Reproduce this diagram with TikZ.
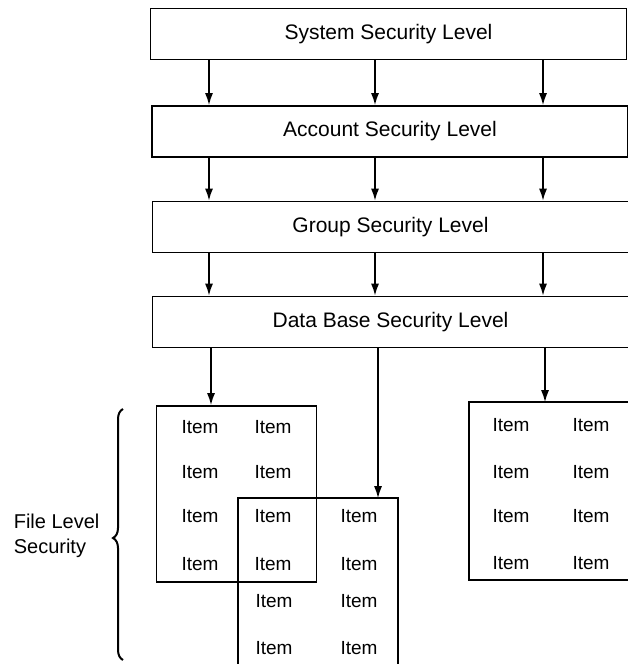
\documentclass[tikz,border=0pt]{standalone}
\usepackage{fontspec}
\setmainfont{Liberation Sans}
\usetikzlibrary{arrows.meta}
\usetikzlibrary{decorations.pathreplacing}

\begin{document}
\begin{tikzpicture}[
    x = 1pt, y = -1pt,
    line width = 1.6pt,
    >={Latex[length=12pt,width=8pt]}]
    \tikzstyle{level}=[draw,minimum width=476pt,minimum height=51pt,inner sep=0pt,font=\fontsize{21}{25}\selectfont]
    \tikzstyle{file}=[minimum width=160pt,minimum height=176pt,inner sep=0pt]
    \tikzstyle{item}=[inner sep=0pt,font=\fontsize{19}{23}\selectfont]
    \useasboundingbox (0,0) rectangle (628,664);
    \node[level] (sys) at (388.5,34) {System Security Level};
    \node[level] (acc) at (390,131.5) {Account Security Level};
    \node[level] (grp) at (390.5,227) {Group Security Level};
    \node[level] (db) at (390.5,322) {Data Base Security Level};
    \coordinate (c1) at (209,0);
    \coordinate (c2) at (375,0);
    \coordinate (c3) at (543,0);
    \foreach \u/\l in {sys/acc,acc/grp,grp/db}
      \foreach \c in {c1,c2,c3}
        \draw[->] (\u.south -| \c) -- (\l.north -| \c);
    \node[file,draw] (fa) at (236.5,494) {};
    \node[file,minimum width=158pt,minimum height=170pt] (fb) at (318,584) {};
    \node[file,minimum width=158pt] (fc) at (549,491) {};
    \draw (fb.south west) -- (fb.north west) -- (fb.north east) -- (fb.south east);
    \draw (fc.north east) -- (fc.north west) -- (fc.south west) -- (fc.south east);
    \coordinate (d1) at (211,0);
    \coordinate (d2) at (378,0);
    \coordinate (d3) at (545,0);
    \path[->]
    (db.south -| d1) edge (fa.north -| d1)
    (db.south -| d2) edge (fb.north -| d2)
    (db.south -| d3) edge (fc.north -| d3) ;
    \foreach \y [count=\r] in {427,472,516,564}
      \foreach \x [count=\k] in {200,273}
        \node[item] (fa-\r-\k) at (\x,\y) {Item};
    \foreach \y [count=\r] in {516,564,601,648}
      \node[item] (fb-\r-2) at (359,\y) {Item};
    \foreach \y [count=\r from 3] in {601,648}
      \node[item] (fb-\r-1) at (274,\y) {Item};
    \foreach \y [count=\r] in {425,472,516,563}
      \foreach \x [count=\k] in {511,591}
        \node[item] (fc-\r-\k) at (\x,\y) {Item};
    \coordinate (br-b) at (123,660);
    \coordinate (br-t) at (123,409);
    \draw[line width=2pt,decorate,decoration={brace,amplitude=10pt,aspect=0.486}] (br-b) -- (br-t);
    \node[align=left,anchor=west,inner sep=0pt,font=\fontsize{20}{25}\selectfont] (flabel) at (13,536) {File Level\\Security};
\end{tikzpicture}
\end{document}
